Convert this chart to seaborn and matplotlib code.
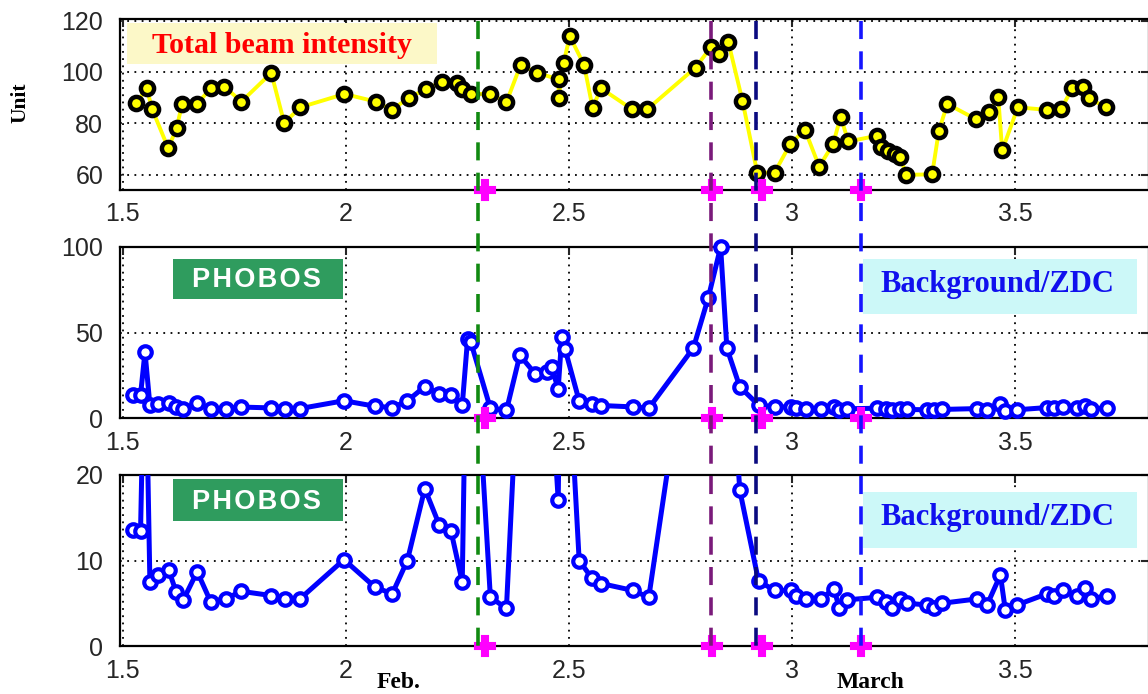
import numpy as np
import matplotlib
matplotlib.use("Agg")
import matplotlib.pyplot as plt
import matplotlib.transforms as mtransforms
from matplotlib.lines import Line2D
from matplotlib.patches import Rectangle
import seaborn as sns

# ---- total beam intensity (day of month, arbitrary units) ----
beam_day = [1.530, 1.554, 1.566, 1.602, 1.621, 1.633, 1.667, 1.697, 1.728, 1.766,
            1.833, 1.862, 1.898, 1.997, 2.068, 2.103, 2.142, 2.179, 2.215, 2.249,
            2.261, 2.280, 2.324, 2.360, 2.392, 2.429, 2.477, 2.477, 2.488, 2.502,
            2.534, 2.553, 2.572, 2.641, 2.676, 2.784, 2.818, 2.836, 2.857, 2.889,
            2.922, 2.961, 2.996, 3.029, 3.061, 3.092, 3.109, 3.126, 3.190, 3.200,
            3.215, 3.230, 3.242, 3.256, 3.314, 3.329, 3.348, 3.412, 3.442, 3.462,
            3.471, 3.506, 3.572, 3.603, 3.628, 3.651, 3.666, 3.703]
beam_val = [87.8, 93.6, 85.5, 70.3, 78.1, 87.5, 87.5, 93.6, 94.3, 88.4,
            99.6, 80.1, 86.2, 91.4, 88.4, 85.2, 90.0, 93.2, 96.2, 95.7,
            93.2, 91.4, 91.4, 88.2, 102.8, 99.6, 97.1, 89.9, 103.5, 113.9,
            102.7, 86.1, 93.6, 85.5, 85.5, 101.7, 109.6, 107.0, 111.8, 88.7,
            60.8, 60.8, 71.9, 77.4, 63.1, 71.9, 82.6, 72.9, 75.1, 70.9,
            69.0, 68.1, 67.0, 59.9, 60.1, 77.0, 87.5, 81.6, 84.2, 90.4,
            69.4, 86.2, 85.2, 85.5, 93.6, 94.0, 89.7, 86.2]

# ---- PHOBOS background / ZDC ratio ----
bg_day = [1.524, 1.540, 1.550, 1.561, 1.580, 1.603, 1.620, 1.636, 1.667, 1.697,
          1.731, 1.765, 1.833, 1.863, 1.897, 1.996, 2.065, 2.104, 2.138, 2.177,
          2.210, 2.236, 2.261, 2.273, 2.280, 2.324, 2.360, 2.390, 2.424, 2.450,
          2.461, 2.476, 2.484, 2.491, 2.523, 2.552, 2.573, 2.643, 2.679, 2.779,
          2.812, 2.840, 2.854, 2.883, 2.925, 2.961, 2.998, 3.009, 3.031, 3.065,
          3.094, 3.106, 3.124, 3.191, 3.210, 3.225, 3.243, 3.258, 3.303, 3.318,
          3.336, 3.414, 3.437, 3.467, 3.478, 3.504, 3.571, 3.586, 3.608, 3.638,
          3.656, 3.671, 3.705]
bg_val = [13.6, 13.4, 38.6, 7.5, 8.3, 8.9, 6.3, 5.4, 8.7, 5.2,
          5.5, 6.4, 5.9, 5.5, 5.5, 10.1, 6.9, 6.1, 10.0, 18.4,
          14.1, 13.4, 7.5, 46.4, 44.5, 5.7, 4.4, 36.7, 26.0, 27.0,
          29.8, 17.1, 47.4, 40.6, 10.0, 7.9, 7.3, 6.5, 5.7, 41.0,
          70.0, 100.0, 40.8, 18.2, 7.6, 6.5, 6.5, 5.9, 5.5, 5.5,
          6.7, 4.4, 5.4, 5.7, 5.2, 4.4, 5.5, 5.0, 4.8, 4.4,
          5.0, 5.5, 4.8, 8.3, 4.2, 4.8, 6.1, 5.9, 6.5, 5.9,
          6.8, 5.5, 5.9]

# ---- beam events (dashed markers) ----
event_day = [2.297, 2.819, 2.920, 3.155]
event_mark_day = [2.313, 2.821, 2.932, 3.155]
event_color = ["#118a11", "#7a1a7a", "#0a0a80", "#1515ff"]

x_ticks = [1.5, 2, 2.5, 3, 3.5]
x_tick_labels = ["1.5", "2", "2.5", "3", "3.5"]
beam_ticks = [60, 80, 100, 120]
bg_ticks_full = [0, 50, 100]
bg_ticks_zoom = [0, 10, 20]
month_labels = ["Feb.", "March"]
month_day = [2.119, 3.176]

sns.set_style("white")
plt.rcParams["font.family"] = ["Liberation Sans", "DejaVu Sans"]

W, H = 1148, 694
fig = plt.figure(figsize=(W / 100, H / 100), dpi=100)

XLIM = (1.494, 3.80)


def px_axes(left, top, right, bottom):
    return fig.add_axes([left / W, 1 - bottom / H, (right - left) / W, (bottom - top) / H])


ax1 = px_axes(120, 19, 1149, 190)
ax2 = px_axes(120, 247, 1149, 418)
ax3 = px_axes(120, 475, 1149, 646)

SERIF = ["Liberation Serif", "DejaVu Serif"]


def style_axes(ax, yticks, ylim):
    ax.set_xlim(*XLIM)
    ax.set_ylim(*ylim)
    ax.set_xticks(x_ticks)
    ax.set_xticklabels(x_tick_labels)
    ax.set_yticks(yticks)
    ax.set_yticklabels([str(t) for t in yticks])
    ax.grid(True, color="black", linestyle=(0, (1, 3)), linewidth=1.3, zorder=0)
    ax.set_axisbelow(True)
    ax.tick_params(direction="in", length=6, width=1.5, top=True, right=True,
                   labelsize=18, labelcolor="#262626")
    ax.tick_params(axis="y", pad=12)
    ax.tick_params(axis="x", pad=9)
    for s in ax.spines.values():
        s.set_linewidth(1.6)
        s.set_color("black")
    ax.set_xlabel("")
    ax.set_ylabel("")


# top: total beam intensity
sns.lineplot(x=beam_day, y=beam_val, ax=ax1, sort=False, estimator=None,
             color="#ffff00", linewidth=2.8, marker="o", markersize=9.5,
             markerfacecolor="#ffff00", markeredgecolor="black",
             markeredgewidth=3.2, zorder=4)
style_axes(ax1, beam_ticks, (54.0, 120.6))

# middle and bottom: background / ZDC at two vertical scales
for ax, ticks, lim in [(ax2, bg_ticks_full, (0, 100)), (ax3, bg_ticks_zoom, (0, 20))]:
    sns.lineplot(x=bg_day, y=bg_val, ax=ax, sort=False, estimator=None,
                 color="#0000ff", linewidth=3.6, marker="o", markersize=9,
                 markerfacecolor="white", markeredgecolor="#0000ff",
                 markeredgewidth=3.0, zorder=4)
    style_axes(ax, ticks, lim)
for line in ax2.lines:
    line.set_clip_on(False)

# label boxes
ax1.add_patch(Rectangle((1.509, 103.1), 0.695, 16.1, facecolor="#fcf8c8",
                        edgecolor="none", zorder=1))
ax1.text(1.856, 110.3, "Total beam intensity", color="#ff0000", fontsize=21.5,
         fontweight="bold", family=SERIF, ha="center", va="center", zorder=2)

for ax, (y0, y1), ty in [(ax2, (69.8, 93.2), 80.8), (ax3, (14.6, 19.5), 16.9)]:
    ax.add_patch(Rectangle((1.613, y0), 0.380, y1 - y0, facecolor="#2f9c5e",
                           edgecolor="none", zorder=1))
    ax.text(1.800, ty, "P H O B O S".replace(" ", "\u200a"), color="white",
            fontsize=19.5, fontweight="bold", ha="center", va="center", zorder=2)

for ax, (y0, y1), ty in [(ax2, (61.0, 93.2), 78.0), (ax3, (11.5, 18.0), 15.0)]:
    ax.add_patch(Rectangle((3.159, y0), 0.613, y1 - y0, facecolor="#ccf8f8",
                           edgecolor="none", zorder=1))
    ax.text(3.460, ty, "Background/ZDC", color="#1010ee", fontsize=22,
            fontweight="bold", family=SERIF, ha="center", va="center", zorder=2)

# event markers along each lower spine
for ax in (ax1, ax2, ax3):
    y_base = ax.get_ylim()[0]
    ax.plot(event_mark_day, [y_base] * len(event_mark_day), linestyle="none",
            marker="P", markersize=15, color="#ff00ff", markeredgecolor="#ff00ff",
            markeredgewidth=1.5, clip_on=False, zorder=6)

# dashed event lines running through all three panels
blend = mtransforms.blended_transform_factory(ax3.transData, fig.transFigure)
for d, c in zip(event_day, event_color):
    fig.add_artist(Line2D([d, d], [1 - 21 / H, 1 - 646 / H], transform=blend,
                          color=c, linewidth=2.6, linestyle=(0, (5, 3.4)), zorder=5))

# month labels under the bottom axis
month_tr = mtransforms.blended_transform_factory(ax3.transData, ax3.transAxes)
for lab, d in zip(month_labels, month_day):
    ax3.text(d, -0.215, lab, transform=month_tr, fontsize=17, fontweight="bold",
             family=SERIF, ha="center", va="center", color="black")

fig.text(20 / W, 1 - 103 / H, "Unit", rotation=90, fontsize=15.5, fontweight="bold",
         family=SERIF, ha="center", va="center", color="black")

fig.savefig("out.png", dpi=100, facecolor="white")
